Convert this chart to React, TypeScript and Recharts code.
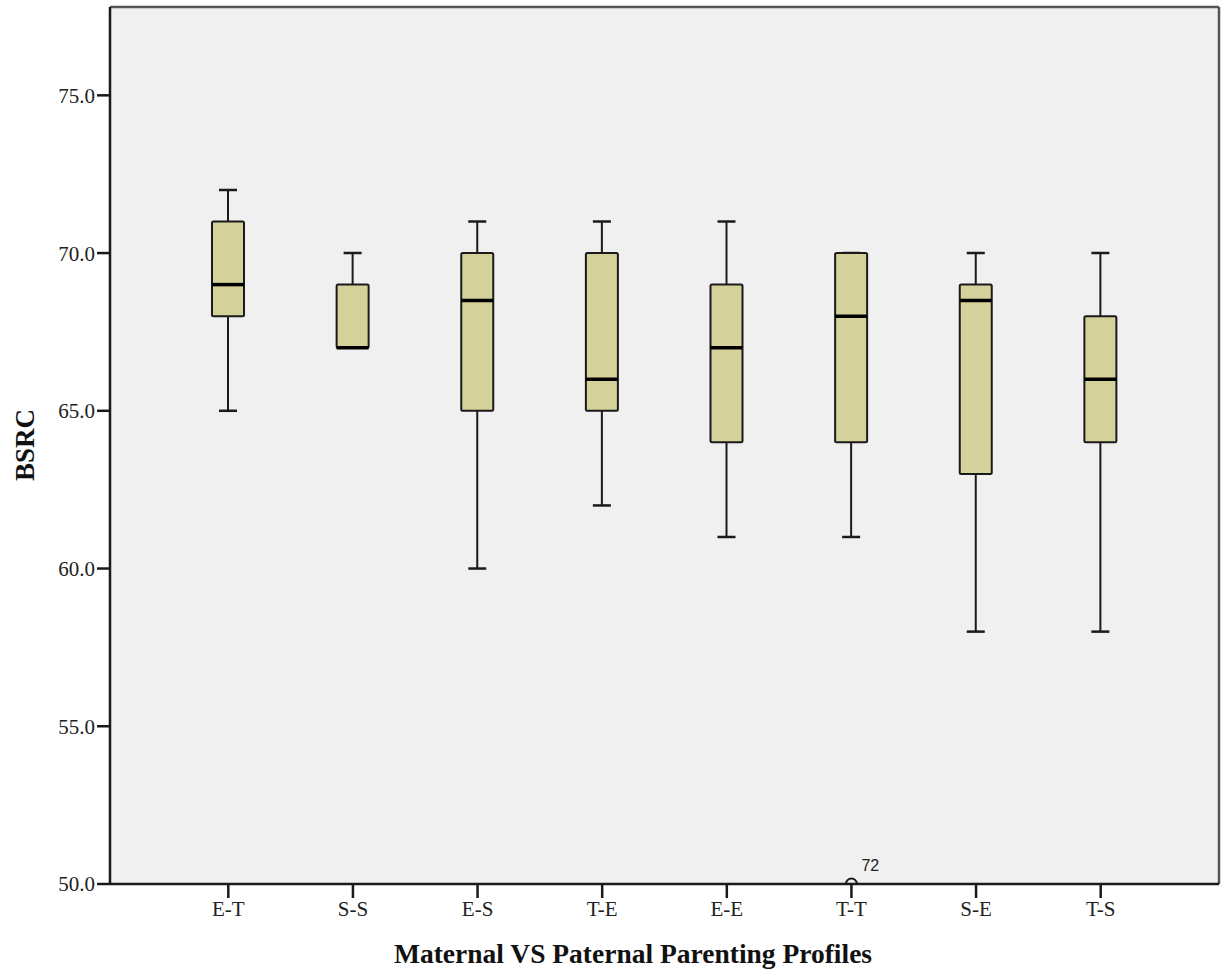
import React from "react";
import {
  ComposedChart,
  Bar,
  Scatter,
  XAxis,
  YAxis,
  CartesianGrid,
} from "recharts";

const profiles = ["E-T", "S-S", "E-S", "T-E", "E-E", "T-T", "S-E", "T-S"];
const mins = [65, 67, 60, 62, 61, 61, 58, 58];
const q1s = [68, 67, 65, 65, 64, 64, 63, 64];
const medians = [69, 67, 68.5, 66, 67, 68, 68.5, 66];
const q3s = [71, 69, 70, 70, 69, 70, 69, 68];
const maxs = [72, 70, 71, 71, 71, 70, 70, 70];
const outliers = [null, null, null, null, null, 50, null, null];
const outlierCases = ["", "", "", "", "", "72", "", ""];
const yTicks = [50, 55, 60, 65, 70, 75];

const data = profiles.map((name, i) => ({
  name,
  min: mins[i],
  q1: q1s[i],
  median: medians[i],
  q3: q3s[i],
  max: maxs[i],
  outlier: outliers[i],
  caseId: outlierCases[i],
}));

const serif = "'Liberation Serif', 'Times New Roman', serif";
const boxFill = "#d5d19b";
const ink = "#1a1a1a";

// draws the whole box from the [min, max] range bar the library lays out
function BoxShape(props: any) {
  const { x, y, width, height, payload } = props;
  if (x == null || payload == null) return <g />;
  const top = Math.min(y, y + height);
  const h = Math.abs(height);
  const span = payload.max - payload.min;
  const py = (v: number) => top + ((payload.max - v) / span) * h;
  const cx = x + width / 2;
  const cap = 9;
  return (
    <g>
      <line x1={cx} x2={cx} y1={py(payload.max)} y2={py(payload.q3)} stroke={ink} strokeWidth={2} />
      <line x1={cx} x2={cx} y1={py(payload.q1)} y2={py(payload.min)} stroke={ink} strokeWidth={2} />
      <line x1={cx - cap} x2={cx + cap} y1={py(payload.max)} y2={py(payload.max)} stroke={ink} strokeWidth={2.5} />
      <line x1={cx - cap} x2={cx + cap} y1={py(payload.min)} y2={py(payload.min)} stroke={ink} strokeWidth={2.5} />
      <rect
        x={x}
        y={py(payload.q3)}
        width={width}
        height={py(payload.q1) - py(payload.q3)}
        fill={boxFill}
        stroke={ink}
        strokeWidth={2}
        rx={1.5}
      />
      <line x1={x} x2={x + width} y1={py(payload.median)} y2={py(payload.median)} stroke="#000" strokeWidth={3.5} />
    </g>
  );
}

function OutlierShape(props: any) {
  const { cx, cy, payload } = props;
  if (cx == null || cy == null || payload == null || payload.outlier == null) return <g />;
  const r = 5.5;
  return (
    <g>
      <path
        d={`M ${cx - r} ${cy} A ${r} ${r} 0 0 1 ${cx + r} ${cy}`}
        fill="none"
        stroke={ink}
        strokeWidth={2}
      />
      <text
        x={cx + 10}
        y={cy - 13}
        fontFamily="'Liberation Sans', Arial, sans-serif"
        fontSize={16}
        fill="#222"
      >
        {payload.caseId}
      </text>
    </g>
  );
}

export default function App() {
  return (
    <div style={{ position: "absolute", left: 0, top: 0, background: "#fff" }}>
      <ComposedChart
        width={1222}
        height={970}
        data={data}
        margin={{ top: 7, right: 3, left: 0, bottom: 46 }}
      >
        <CartesianGrid horizontal={false} vertical={false} fill="#f0f0f0" />
        {/* top and right frame of the plot area */}
        <CartesianGrid
          fill="none"
          stroke="#555"
          strokeWidth={2.5}
          strokeDasharray=""
          horizontalCoordinatesGenerator={({ offset }: any) => [offset.top]}
          verticalCoordinatesGenerator={({ offset }: any) => [offset.left + offset.width]}
        />
        <XAxis
          dataKey="name"
          height={40}
          padding={{ left: 56, right: 56 }}
          tickSize={14}
          tickMargin={3}
          axisLine={{ stroke: ink, strokeWidth: 2.5 }}
          tickLine={{ stroke: ink, strokeWidth: 2.5 }}
          tick={{ fill: "#222", fontSize: 21, fontFamily: serif }}
          label={{
            content: () => (
              <text
                x={633}
                y={963}
                textAnchor="middle"
                fontFamily={serif}
                fontWeight="bold"
                fontSize={27.5}
                fill="#111"
              >
                Maternal VS Paternal Parenting Profiles
              </text>
            ),
          }}
        />
        <YAxis
          width={110}
          domain={[50, 77.8]}
          ticks={yTicks}
          allowDataOverflow
          tickFormatter={(v: number) => v.toFixed(1)}
          tickSize={13}
          tickMargin={2}
          axisLine={{ stroke: ink, strokeWidth: 2.5 }}
          tickLine={{ stroke: ink, strokeWidth: 2.5 }}
          tick={{ fill: "#222", fontSize: 21, fontFamily: serif }}
          label={{
            content: () => (
              <text
                x={25}
                y={445}
                transform="rotate(-90 25 445)"
                textAnchor="middle"
                dominantBaseline="central"
                fontFamily={serif}
                fontWeight="bold"
                fontSize={27}
                fill="#111"
              >
                BSRC
              </text>
            ),
          }}
        />
        <Bar
          dataKey={(d: any) => [d.min, d.max]}
          barSize={32}
          shape={BoxShape}
          isAnimationActive={false}
        />
        <Scatter dataKey="outlier" shape={OutlierShape} isAnimationActive={false} />
      </ComposedChart>
    </div>
  );
}
